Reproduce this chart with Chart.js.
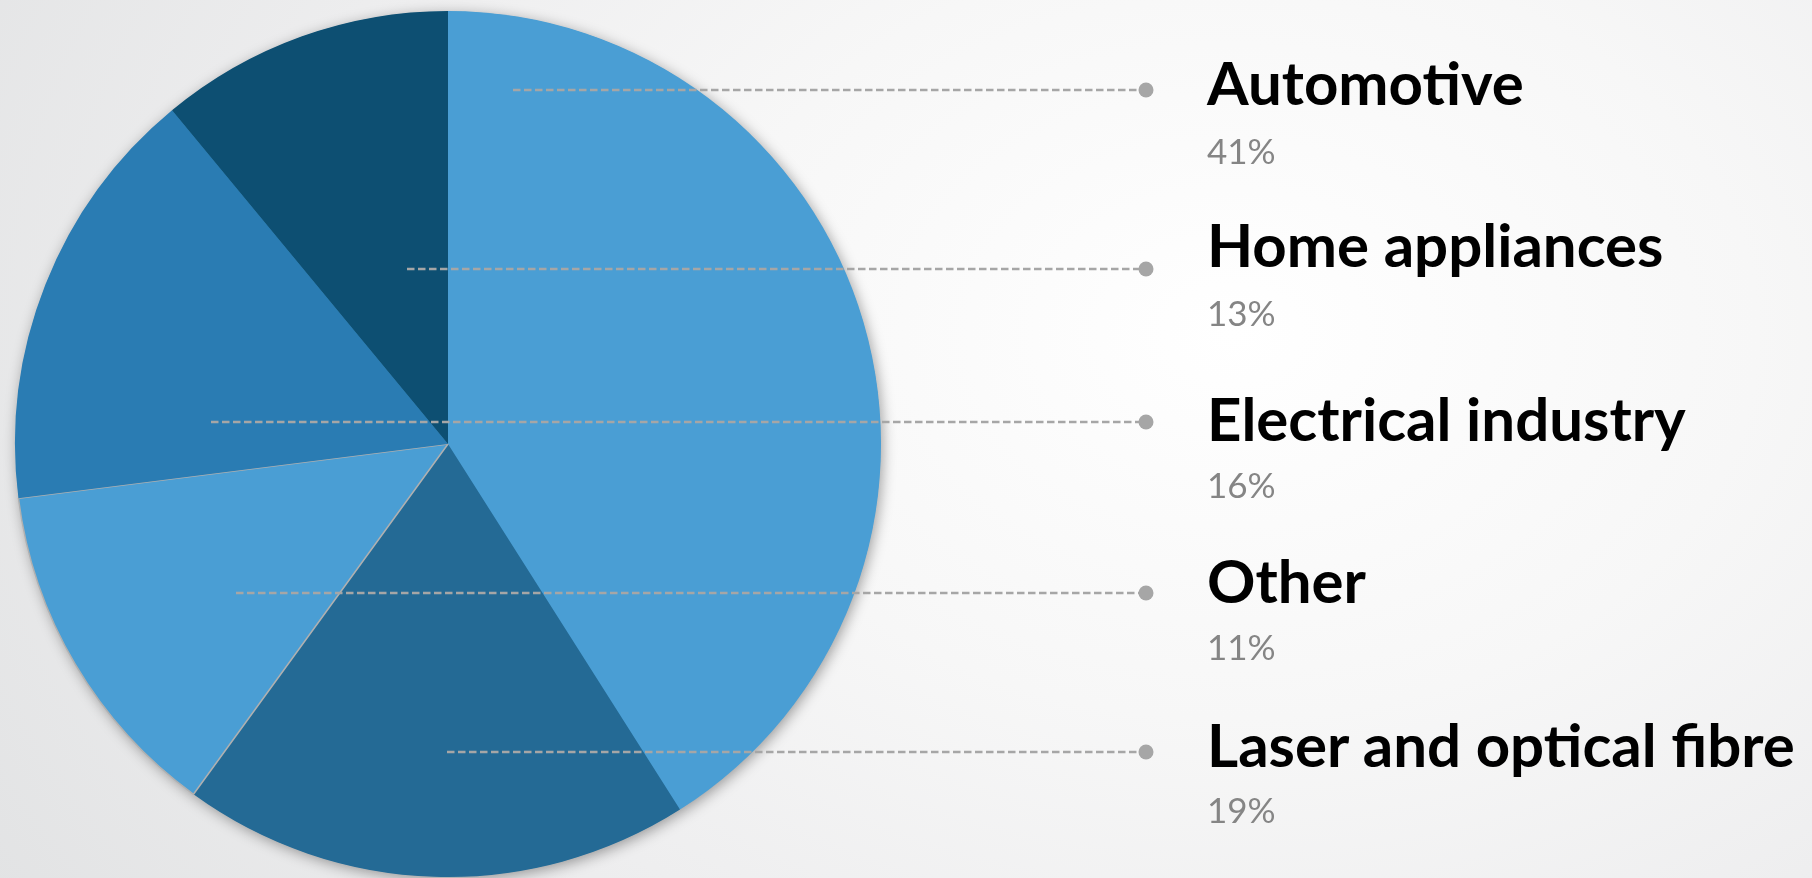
<!DOCTYPE html>
<html>
<head>
<meta charset="utf-8">
<title>Market share by sector</title>
<script src="https://cdn.jsdelivr.net/npm/chart.js@4.4.1/dist/chart.umd.min.js"></script>
<style>
  html, body { margin: 0; padding: 0; width: 1812px; height: 878px; overflow: hidden; }
  body {
    background: radial-gradient(ellipse 1500px 1100px at 68% 38%, #ffffff 0%, #f7f7f7 35%, #eeeeef 62%, #e1e2e3 100%);
    font-family: Lato, 'Open Sans', sans-serif;
  }
  #wrap { position: absolute; left: 0; top: 0; width: 1812px; height: 878px; }
  .lbl { position: absolute; left: 1207px; white-space: nowrap; line-height: 1; }
  .lbl .name { font-weight: 700; font-size: 60px; color: #000; }
  .lbl .pct { font-weight: 400; font-size: 35px; color: #858585; }
</style>
</head>
<body>
<div id="wrap"><canvas id="pie"></canvas></div>
<div id="labels"></div>
<script>
// slices in clockwise order from 12 o'clock
const categories = ['Automotive', 'Laser and optical fibre', 'Home appliances', 'Electrical industry', 'Other'];
const shares     = [41, 19, 13, 16, 11];
const sliceColors = ['#4a9ed4', '#246a95', '#4a9ed4', '#2a7cb3', '#0d4f72'];
// order of the captions on the right (indices into categories)
const legendOrder = [0, 2, 3, 4, 1];

// leader lines: start point (px from pie centre) and y of the line / caption baselines
const leaders = [
  { dx: 65,   y: 90,  titleBase: 106, pctBase: 164 },
  { dx: -41,  y: 269, titleBase: 268, pctBase: 326 },
  { dx: -237, y: 422, titleBase: 442, pctBase: 498 },
  { dx: -212, y: 593, titleBase: 604, pctBase: 660 },
  { dx: -1,   y: 752, titleBase: 768, pctBase: 823 },
];
const DOT_X = 1146;
const TITLE_PX = 60, PCT_PX = 35, ASC = 0.9; // approx baseline offset inside a line-height:1 box

const pieShadow = {
  id: 'pieShadow',
  beforeDatasetsDraw(chart) {
    const arc = chart.getDatasetMeta(0).data[0];
    if (!arc) return;
    const ctx = chart.ctx;
    ctx.save();
    ctx.shadowColor = 'rgba(0,0,0,0.38)';
    ctx.shadowBlur = 14;
    ctx.shadowOffsetX = 2;
    ctx.shadowOffsetY = 3;
    ctx.fillStyle = '#4a9ed4';
    ctx.beginPath();
    ctx.arc(arc.x, arc.y, arc.outerRadius - 0.5, 0, Math.PI * 2);
    ctx.fill();
    ctx.restore();
  }
};

const leaderLines = {
  id: 'leaderLines',
  afterDatasetsDraw(chart) {
    const arc = chart.getDatasetMeta(0).data[0];
    if (!arc) return;
    const ctx = chart.ctx;
    ctx.save();
    leaders.forEach(l => {
      ctx.strokeStyle = '#a6a6a6';
      ctx.lineWidth = 2.6;
      ctx.setLineDash([7.5, 3.5]);
      ctx.beginPath();
      ctx.moveTo(arc.x + l.dx, l.y);
      ctx.lineTo(DOT_X, l.y);
      ctx.stroke();
      ctx.setLineDash([]);
      ctx.fillStyle = '#a6a6a6';
      ctx.beginPath();
      ctx.arc(DOT_X, l.y, 7.5, 0, Math.PI * 2);
      ctx.fill();
    });
    ctx.restore();
  }
};

new Chart(document.getElementById('pie'), {
  type: 'pie',
  data: {
    labels: categories,
    datasets: [{
      data: shares,
      backgroundColor: sliceColors,
      borderColor: categories.map(c => c === 'Home appliances' ? '#b0b0b0' : 'rgba(0,0,0,0)'),
      borderWidth: categories.map(c => c === 'Home appliances' ? 1.5 : 0),
    }]
  },
  options: {
    responsive: true,
    maintainAspectRatio: false,
    animation: false,
    radius: 433,
    layout: { padding: { left: 0, right: 916, top: 10, bottom: 0 } },
    plugins: { legend: { display: false }, tooltip: { enabled: false } },
  },
  plugins: [pieShadow, leaderLines],
});

// captions
const box = document.getElementById('labels');
legendOrder.forEach((idx, i) => {
  const l = leaders[i];
  const name = document.createElement('div');
  name.className = 'lbl';
  name.innerHTML = '<span class="name"></span>';
  name.firstChild.textContent = categories[idx];
  name.style.top = (l.titleBase - TITLE_PX * ASC) + 'px';
  box.appendChild(name);
  const pct = document.createElement('div');
  pct.className = 'lbl';
  pct.innerHTML = '<span class="pct"></span>';
  pct.firstChild.textContent = shares[idx] + '%';
  pct.style.top = (l.pctBase - PCT_PX * ASC) + 'px';
  box.appendChild(pct);
});
</script>
</body>
</html>
